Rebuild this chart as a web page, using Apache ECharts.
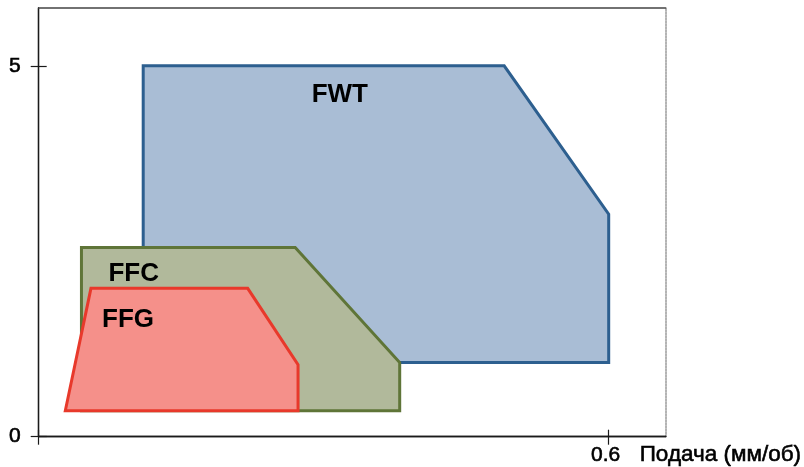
<!DOCTYPE html>
<html>
<head>
<meta charset="utf-8">
<script src="https://cdn.jsdelivr.net/npm/echarts@6/dist/echarts.min.js"></script>
<style>
  html, body { margin: 0; padding: 0; background: #ffffff; }
  #chart { width: 804px; height: 467px; }
</style>
</head>
<body>
<div id="chart"></div>
<script>
// Operating windows of three tool grades: feed (mm/rev) vs. depth of cut
const zoneNames = ['FWT', 'FFC', 'FFG'];

// Polygon outlines, [feed, depth] pairs
const fwtFeed  = [0.11, 0.11, 0.49, 0.60, 0.60];
const fwtDepth = [1.00, 5.00, 5.00, 3.00, 1.00];

const ffcFeed  = [0.045, 0.045, 0.27, 0.38, 0.38];
const ffcDepth = [0.35, 2.55, 2.55, 1.00, 0.35];

const ffgFeed  = [0.028, 0.055, 0.22, 0.273, 0.273];
const ffgDepth = [0.35, 2.00, 2.00, 0.97, 0.35];

// Ticks and labels
const xTicks = [0, 0.6];
const xLabels = [0.6];
const yTicks = [0, 5];
const yLabels = [0, 5];
const xName = 'Подача (мм/об)';

const FONT = '"Liberation Sans", Arial, Helvetica, sans-serif';

function pairs(xs, ys) { return xs.map((x, i) => [x, ys[i]]); }

function zoneSeries(name, xs, ys, fill, stroke, labelAt) {
  const pts = pairs(xs, ys);
  return {
    type: 'custom',
    name: name,
    coordinateSystem: 'cartesian2d',
    data: [0],
    silent: true,
    renderItem: function (params, api) {
      const poly = pts.map(p => api.coord(p));
      const lp = api.coord(labelAt);
      return {
        type: 'group',
        children: [
          {
            type: 'polygon',
            shape: { points: poly },
            style: { fill: fill, stroke: stroke, lineWidth: 3, lineJoin: 'miter' }
          },
          {
            type: 'text',
            x: lp[0], y: lp[1],
            style: {
              text: name, fill: '#000000',
              font: 'bold 26px ' + FONT,
              align: 'center', verticalAlign: 'middle'
            }
          }
        ]
      };
    }
  };
}

const chart = echarts.init(document.getElementById('chart'), null, { renderer: 'canvas' });

const grid = { left: 38.7, right: 138.3, top: 8, bottom: 30.3, containLabel: false, outerBoundsMode: 'none' };
const xRange = { min: 0, max: 0.66 };
const yRange = { min: 0, max: 5.78 };
const axisInk = { color: '#1a1a1a', width: 1.3 };
const tickInk = { color: '#1a1a1a', width: 1.2 };
const labelText = {
  color: '#000', fontFamily: FONT,
  textBorderColor: '#000', textBorderWidth: 0.6
};

chart.setOption({
  animation: false,
  backgroundColor: '#ffffff',
  grid: grid,
  xAxis: [
    {
      type: 'value', position: 'bottom', ...xRange,
      axisLine: { show: true, onZero: false, lineStyle: axisInk },
      axisTick: { show: true, length: 8, customValues: xTicks, lineStyle: tickInk },
      axisLabel: {
        show: true, customValues: xLabels, margin: 8,
        fontSize: 21, ...labelText,
        padding: [0, 6, 0, 0],
        formatter: v => String(v)
      },
      splitLine: { show: false },
      name: xName, nameLocation: 'end', nameGap: -26,
      nameTextStyle: {
        fontSize: 22.5, ...labelText,
        align: 'left', verticalAlign: 'top', padding: [7, 0, 0, 0]
      }
    },
    {
      // inward half of the crossing ticks
      type: 'value', position: 'bottom', ...xRange,
      axisLine: { show: true, onZero: false, lineStyle: axisInk },
      axisTick: { show: true, inside: true, length: 7, customValues: xTicks, lineStyle: tickInk },
      axisLabel: { show: false }, splitLine: { show: false }
    },
    {
      // top frame
      type: 'value', position: 'top', ...xRange,
      axisLine: { show: true, onZero: false, lineStyle: { color: '#444444', width: 1.6 } },
      axisTick: { show: false }, axisLabel: { show: false }, splitLine: { show: false }
    }
  ],
  yAxis: [
    {
      type: 'value', position: 'left', ...yRange,
      axisLine: { show: true, onZero: false, lineStyle: axisInk },
      axisTick: { show: true, length: 8, customValues: yTicks, lineStyle: tickInk },
      axisLabel: {
        show: true, customValues: yLabels, margin: 18,
        fontSize: 21, ...labelText
      },
      splitLine: { show: false }
    },
    {
      type: 'value', position: 'left', ...yRange,
      axisLine: { show: true, onZero: false, lineStyle: axisInk },
      axisTick: { show: true, inside: true, length: 8, customValues: yTicks, lineStyle: tickInk },
      axisLabel: { show: false }, splitLine: { show: false }
    },
    {
      // right frame
      type: 'value', position: 'right', ...yRange,
      axisLine: { show: true, onZero: false, lineStyle: { color: '#9a9a9a', width: 1.5, type: [2, 1] } },
      axisTick: { show: false }, axisLabel: { show: false }, splitLine: { show: false }
    }
  ],
  series: [
    zoneSeries(zoneNames[0], fwtFeed, fwtDepth, '#a9bdd5', '#2d5f8f', [0.317, 4.61]),
    zoneSeries(zoneNames[1], ffcFeed, ffcDepth, '#b1b99b', '#5f7538', [0.10, 2.20]),
    zoneSeries(zoneNames[2], ffgFeed, ffgDepth, '#f5908a', '#e8392b', [0.094, 1.57])
  ]
});
</script>
</body>
</html>
